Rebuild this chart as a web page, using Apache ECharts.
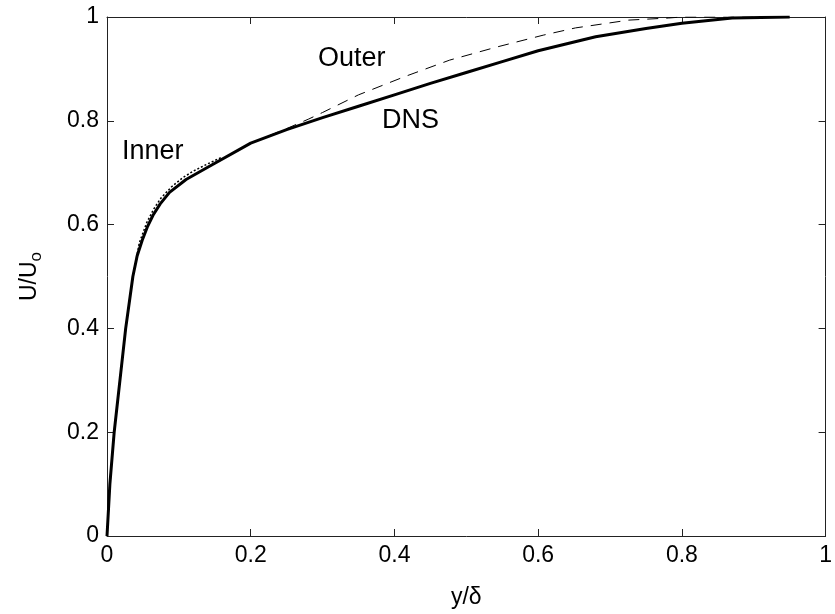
<!DOCTYPE html>
<html><head><meta charset="utf-8">
<script src="https://cdn.jsdelivr.net/npm/echarts@6/dist/echarts.min.js"></script>
<style>html,body{margin:0;padding:0;background:#fff}#c{width:835px;height:614px}</style>
</head><body><div id="c"></div>
<script>
const xTicks = [0, 0.2, 0.4, 0.6, 0.8, 1];
const yTicks = [0, 0.2, 0.4, 0.6, 0.8, 1];
const dnsX = [0,0.002,0.004,0.007,0.010,0.014,0.018,0.022,0.026,0.031,0.036,0.042,0.049,0.056,0.064,0.074,0.087,0.11,0.142,0.2,0.25,0.3,0.35,0.4,0.45,0.5,0.55,0.6,0.68,0.75,0.8,0.87,0.95];
const dnsY = [0,0.05,0.1,0.15,0.2,0.25,0.3,0.35,0.4,0.45,0.5,0.54,0.57,0.595,0.618,0.64,0.662,0.687,0.712,0.757,0.783,0.806,0.828,0.85,0.872,0.893,0.914,0.935,0.962,0.978,0.988,0.998,1.0];
const innerX = [0,0.004,0.01,0.018,0.026,0.036,0.045,0.055,0.065,0.075,0.09,0.105,0.12,0.14,0.16];
const innerY = [0,0.1,0.2,0.3,0.4,0.5,0.565,0.603,0.63,0.651,0.673,0.69,0.703,0.717,0.73];
const outerX = [0.2,0.25,0.28,0.3,0.35,0.414,0.477,0.542,0.607,0.652,0.726,0.781,0.8,0.95];
const outerY = [0.757,0.785,0.803,0.816,0.850,0.885,0.917,0.942,0.965,0.979,0.994,0.998,1.0,1.0];

const zip = (a,b) => a.map((v,i)=>[v,b[i]]);
const font = 'Liberation Sans, Arial, sans-serif';
const axisLine = {show:true, onZero:false, lineStyle:{color:'#222', width:1}};
const tick = {show:true, inside:true, length:7, lineStyle:{color:'#222'}};
const lbl = {color:'#000', fontSize:23, fontFamily:font};
const fmt = v => String(+(+v).toFixed(1));
const chart = echarts.init(document.getElementById('c'));
chart.setOption({
  animation:false,
  grid:{left:107, right:3, top:17, bottom:76, containLabel:false},
  xAxis:[
    {type:'value', min:0, max:1, interval:0.2, axisLine, axisTick:tick, splitLine:{show:false},
     axisLabel:{...lbl, margin:8, formatter:fmt},
     name:'y/δ', nameLocation:'middle', nameGap:50, nameTextStyle:{color:'#000', fontSize:23, fontFamily:font}},
    {type:'value', min:0, max:1, interval:0.2, position:'top', axisLine, axisTick:tick, axisLabel:{show:false}, splitLine:{show:false}}
  ],
  yAxis:[
    {type:'value', min:0, max:1, interval:0.2, axisLine, axisTick:tick, splitLine:{show:false},
     axisLabel:{...lbl, margin:8, formatter:fmt},
     name:'{a|U/U}{b|o}', nameLocation:'middle', nameGap:62, nameRotate:90,
     nameTextStyle:{color:'#000', fontFamily:font, rich:{a:{fontSize:23, fontFamily:font, color:'#000'}, b:{fontSize:17, fontFamily:font, color:'#000', padding:[14,0,0,0]}}}},
    {type:'value', min:0, max:1, interval:0.2, position:'right', axisLine, axisTick:tick, axisLabel:{show:false}, splitLine:{show:false}}
  ],
  series:[
    {type:'line', data:zip(outerX,outerY), showSymbol:false, lineStyle:{color:'#000', width:1, type:[11,8]}, z:2},
    {type:'line', data:zip(innerX,innerY), showSymbol:false, lineStyle:{color:'#000', width:1.5, type:[2,2]}, z:2},
    {type:'line', data:zip(dnsX,dnsY), showSymbol:false, lineStyle:{color:'#000', width:3}, z:3}
  ],
  graphic:[
    {type:'text', left:318, top:45, style:{text:'Outer', fill:'#000', fontSize:27, fontFamily:font}},
    {type:'text', left:382, top:107, style:{text:'DNS', fill:'#000', fontSize:27, fontFamily:font}},
    {type:'text', left:122, top:138, style:{text:'Inner', fill:'#000', fontSize:27, fontFamily:font}}
  ]
});
</script></body></html>
